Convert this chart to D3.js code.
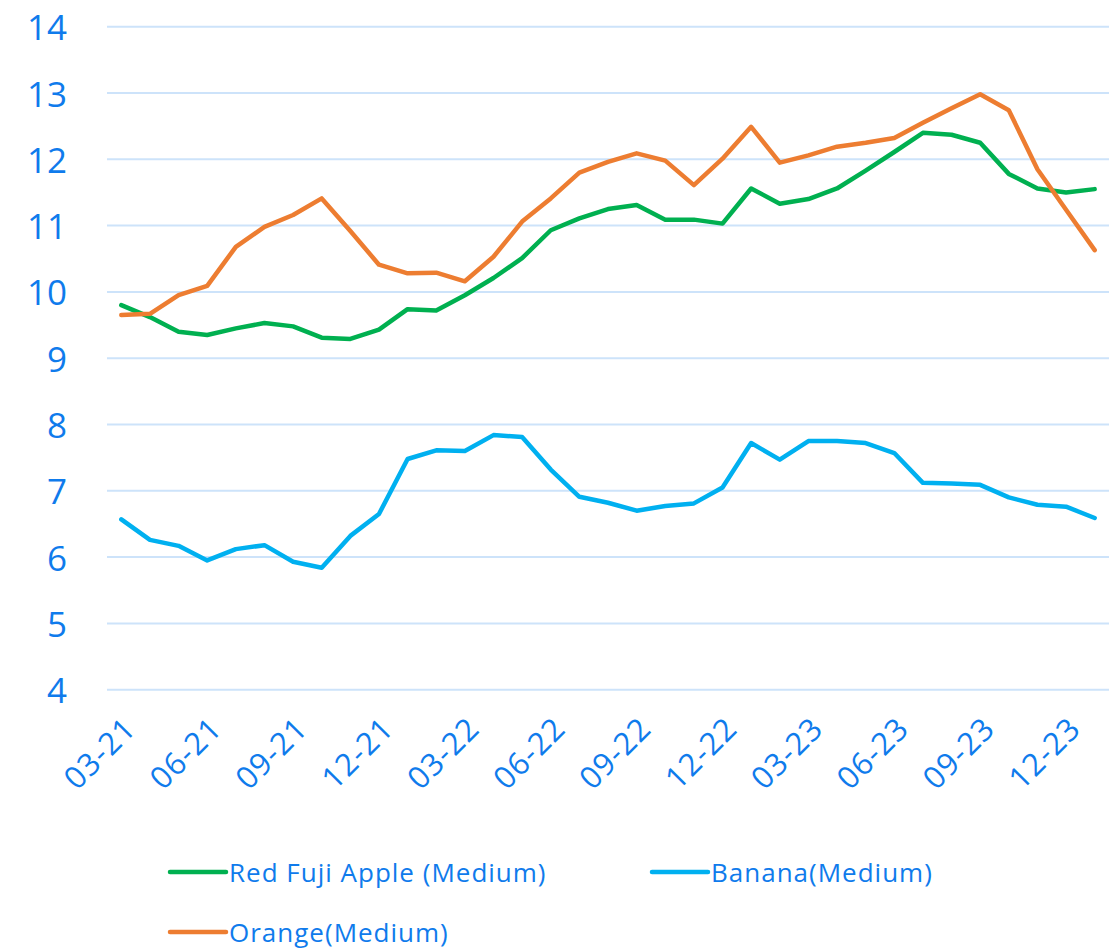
<!DOCTYPE html>
<html>
<head>
<meta charset="utf-8">
<script src="https://d3js.org/d3.v7.min.js"></script>
<style>
  body { margin: 0; background: #fff; }
  text { font-family: "Open Sans", "Noto Sans", sans-serif; }
</style>
</head>
<body>
<div id="my_dataviz"></div>
<script>

// months, 03-21 .. 01-24
var months = ["03-21","04-21","05-21","06-21","07-21","08-21","09-21","10-21","11-21","12-21",
              "01-22","02-22","03-22","04-22","05-22","06-22","07-22","08-22","09-22","10-22","11-22","12-22",
              "01-23","02-23","03-23","04-23","05-23","06-23","07-23","08-23","09-23","10-23","11-23","12-23",
              "01-24"]

var tickLabels = ["03-21","06-21","09-21","12-21","03-22","06-22","09-22","12-22","03-23","06-23","09-23","12-23"]

var apple = [9.80,9.62,9.40,9.35,9.45,9.53,9.48,9.31,9.29,9.43,9.74,9.72,
             9.95,10.21,10.51,10.93,11.11,11.25,11.31,11.09,11.09,11.03,11.56,
             11.33,11.40,11.56,11.83,12.11,12.40,12.37,12.25,11.78,11.56,11.50,11.55]

var banana = [6.57,6.26,6.17,5.95,6.12,6.18,5.93,5.84,6.32,6.65,7.48,7.61,
              7.60,7.84,7.81,7.32,6.91,6.82,6.70,6.77,6.81,7.05,7.72,
              7.47,7.75,7.75,7.72,7.57,7.12,7.11,7.09,6.90,6.79,6.76,6.59]

var orange = [9.65,9.67,9.95,10.09,10.68,10.98,11.16,11.41,10.92,10.41,10.28,10.29,
              10.16,10.53,11.06,11.41,11.80,11.96,12.09,11.98,11.61,12.01,12.49,
              11.95,12.06,12.19,12.25,12.32,12.55,12.77,12.98,12.74,11.85,11.24,10.63]

var seriesNames = ["Red Fuji Apple (Medium)", "Banana(Medium)", "Orange(Medium)"]
var yTicks = [4,5,6,7,8,9,10,11,12,13,14]

var series = [
  {name: seriesNames[0], values: apple,  color: "#00b050"},
  {name: seriesNames[1], values: banana, color: "#00b0f0"},
  {name: seriesNames[2], values: orange, color: "#ed7d31"}
]

var W = 1117, H = 952
var textColor = "#0f7bec"

var svg = d3.select("#my_dataviz")
  .append("svg")
    .attr("width", W)
    .attr("height", H)

var x = d3.scalePoint()
  .domain(months)
  .range([107, 1109])
  .padding(0.5)

var y = d3.scaleLinear()
  .domain([4, 14])
  .range([689.7, 26.7])

// gridlines
svg.append("g")
  .selectAll("line")
  .data(yTicks)
  .enter()
  .append("line")
    .attr("x1", 107)
    .attr("x2", 1109)
    .attr("y1", function(d){ return y(d) })
    .attr("y2", function(d){ return y(d) })
    .style("stroke", "#cde3fa")
    .style("stroke-width", 2)

// y labels
svg.append("g")
  .selectAll("text")
  .data(yTicks)
  .enter()
  .append("text")
    .attr("x", 67)
    .attr("y", function(d){ return y(d) })
    .attr("text-anchor", "end")
    .attr("dominant-baseline", "central")
    .style("fill", textColor)
    .style("font-size", "35px")
    .text(function(d){ return d })

// x labels (rotated)
svg.append("g")
  .selectAll("text")
  .data(tickLabels)
  .enter()
  .append("text")
    .attr("transform", function(d){ return "translate(" + (x(d) + 8) + ",722) rotate(-45)" })
    .attr("text-anchor", "end")
    .attr("dominant-baseline", "central")
    .style("fill", textColor)
    .style("font-size", "31px")
    .style("letter-spacing", "1px")
    .text(function(d){ return d })

// lines
var line = d3.line()
  .x(function(d, i){ return x(months[i]) })
  .y(function(d){ return y(d) })

svg.append("g")
  .selectAll("path")
  .data(series)
  .enter()
  .append("path")
    .attr("d", function(d){ return line(d.values) })
    .style("fill", "none")
    .style("stroke", function(d){ return d.color })
    .style("stroke-width", 4.5)
    .style("stroke-linejoin", "round")
    .style("stroke-linecap", "round")

// legend
var legendPos = [[170, 872], [652, 872], [170, 932]]
var leg = svg.append("g")
  .selectAll("g")
  .data(series)
  .enter()
  .append("g")
    .attr("transform", function(d, i){ return "translate(" + legendPos[i][0] + "," + legendPos[i][1] + ")" })

leg.append("line")
  .attr("x1", 0).attr("x2", 56)
  .attr("y1", 0).attr("y2", 0)
  .style("stroke", function(d){ return d.color })
  .style("stroke-width", 4.5)
  .style("stroke-linecap", "round")

leg.append("text")
  .attr("x", 59)
  .attr("y", 0)
  .attr("dominant-baseline", "central")
  .style("fill", textColor)
  .style("font-size", "26px")
  .style("letter-spacing", "1px")
  .text(function(d){ return d.name })

</script>
</body>
</html>
